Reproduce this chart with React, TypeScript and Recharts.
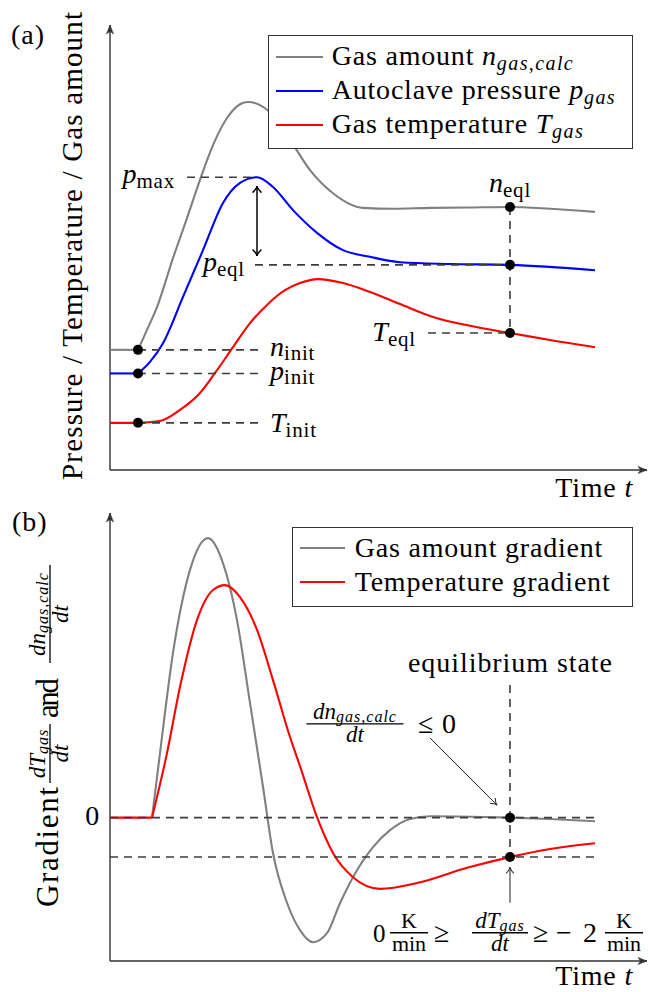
import React from 'react';
import { LineChart, Line, XAxis, YAxis, ReferenceLine, ReferenceDot, Legend } from 'recharts';

const FONT = "'Liberation Serif', 'DejaVu Serif', 'Times New Roman', Times, serif";
const INK = '#000';
const AXIS = '#333';
const DASH = '#3d3d3d';
const GRAY = '#808080';
const BLUE = '#0000ff';
const RED = '#ff0000';

// ---------------- time axis ----------------
const T_MAX = 107.4;
const admissionTime = 5.6; // start of gas admission (init points)
const eqlTime = 80; // equilibrium state

// ---------------- panel (a) data ----------------
const Y_MAX_A = 100;
const gasInitTime = [0, 5.6];
const gasInit = [27.0, 27.0];
const gasTime = [5.6, 7.4, 9.4, 12.6, 15.4, 18, 20.6, 23.4, 26, 27.6, 30, 32, 36, 40, 44.6, 50.6, 56.6, 64, 72, 80, 88, 97];
const gasAmount = [27.0, 31.5, 36.6, 47.6, 56.6, 65.2, 73.0, 79.1, 82.2, 82.7, 82.0, 80.4, 74.2, 67.4, 62.2, 58.9, 58.7, 58.9, 59.0, 59.1, 58.7, 58.0];

const pressInitTime = [0, 5.6];
const pressInit = [21.7, 21.7];
const pressTime = [5.6, 8, 10.6, 14.6, 18.6, 22.6, 26, 29.4, 32.6, 36.6, 41.4, 46.6, 52, 58, 68, 80, 97];
const pressure = [21.7, 24.3, 28.5, 38.9, 49.4, 60.0, 64.5, 65.8, 63.6, 58.4, 53.3, 49.4, 47.9, 46.7, 46.3, 46.1, 44.9];

const tempTime = [0, 5.6, 10, 14, 18, 21, 24.6, 28, 31.4, 35, 38, 41.6, 46.6, 52, 58, 64.6, 72, 80, 88, 97];
const temperature = [10.6, 10.6, 11.0, 13.5, 17.3, 21.8, 27.6, 33.0, 37.1, 40.4, 42.0, 42.9, 42.0, 40.0, 37.3, 34.4, 32.4, 30.8, 29.2, 27.6];

const valueAt = (ts: number[], vs: number[], t: number) => vs[ts.indexOf(t)];
const nInit = gasInit[0];
const pInit = pressInit[0];
const TInit = temperature[0];
const nEql = valueAt(gasTime, gasAmount, eqlTime);
const pEql = valueAt(pressTime, pressure, eqlTime);
const TEql = valueAt(tempTime, temperature, eqlTime);
const pMax = Math.max(...pressure);
const pMaxTime = pressTime[pressure.indexOf(pMax)];

const legendA = [
  { color: GRAY, text: 'Gas amount ', sym: 'n', sub: 'gas,calc' },
  { color: BLUE, text: 'Autoclave pressure ', sym: 'p', sub: 'gas' },
  { color: RED, text: 'Gas temperature ', sym: 'T', sub: 'gas' },
];

// ---------------- panel (b) data ----------------
const Y_MIN_B = -32;
const Y_MAX_B = 68;
const gradInitTime = [0, 8.4];
const gradInit = [0, 0];
const dnTime = [8.4, 10, 12.6, 16, 19.6, 22.6, 25.4, 28, 30.6, 32.6, 35.4, 38, 40.6, 43.4, 46, 48.6, 52.6, 56, 60, 64, 72, 80, 88, 97];
const dnGrad = [0, 14.4, 36.8, 55.3, 62.4, 56.8, 44.1, 25.6, 6.9, -7.9, -19.0, -25.1, -27.8, -25.8, -19.1, -13.3, -6.6, -2.8, -0.3, 0.3, 0.2, 0, -0.3, -0.8];
const dTTime = [8.4, 11.4, 14, 17.4, 20.6, 23, 26, 29.4, 32.6, 36, 38, 41.4, 44.6, 48.6, 54, 61.4, 71.4, 80, 88, 97];
const dTGrad = [0, 14.4, 29.2, 44.1, 50.8, 51.9, 49.2, 41.9, 30.7, 18.0, 11.5, 0.1, -7.9, -13.3, -15.9, -14.6, -11.2, -8.8, -7.0, -5.7];
const dTLimit = valueAt(dTTime, dTGrad, eqlTime); // -2 K/min line
const dnEql = valueAt(dnTime, dnGrad, eqlTime);
const curveEnd = 97;

const legendB = [
  { color: GRAY, text: 'Gas amount gradient' },
  { color: RED, text: 'Temperature gradient' },
];

const series = (ts: number[], vs: number[]) => ts.map((t, i) => ({ t, v: vs[i] }));

// ---------------- drawing helpers ----------------
type ArrowOpts = { color: string; width: number; len: number; half: number; start?: boolean; end?: boolean; filled?: boolean };

function head(x: number, y: number, ang: number, o: ArrowOpts) {
  const c = Math.cos(ang), s = Math.sin(ang);
  const bx = x - o.len * c, by = y - o.len * s;
  const lx = bx - o.half * s, ly = by + o.half * c;
  const rx = bx + o.half * s, ry = by - o.half * c;
  if (o.filled) {
    const nx = x - o.len * 0.72 * c, ny = y - o.len * 0.72 * s;
    return <path d={`M${x},${y} L${lx},${ly} L${nx},${ny} L${rx},${ry} Z`} fill={o.color} stroke={o.color} strokeWidth={0.5} strokeLinejoin="round" />;
  }
  return <path d={`M${lx},${ly} Q${x - o.len * 0.35 * c},${y - o.len * 0.35 * s} ${x},${y} Q${x - o.len * 0.35 * c},${y - o.len * 0.35 * s} ${rx},${ry}`} fill="none" stroke={o.color} strokeWidth={o.width} strokeLinecap="round" />;
}

const arrow = (o: ArrowOpts) => (props: any) => {
  const { x1, y1, x2, y2 } = props;
  const ang = Math.atan2(y2 - y1, x2 - x1);
  return (
    <g>
      <line x1={x1} y1={y1} x2={x2} y2={y2} stroke={o.color} strokeWidth={o.width} />
      {o.end ? head(x2, y2, ang, o) : null}
      {o.start ? head(x1, y1, ang + Math.PI, o) : null}
    </g>
  );
};

const anchor = (render: (x: number, y: number) => React.ReactNode) => (p: any) => <g>{render(p.cx, p.cy)}</g>;

function Txt({ x, y, children, anchor: a = 'start', size = 28, italic = false, ls = 0.8, tl }: any) {
  return (
    <text x={x} y={y} textAnchor={a} style={{ fontFamily: FONT }} fontSize={size} fontStyle={italic ? 'italic' : 'normal'} fill={INK} letterSpacing={ls} textLength={tl} lengthAdjust={tl ? 'spacing' : undefined}>
      {children}
    </text>
  );
}

function Sym({ x, y, base, sub, anchor: a = 'start', size = 28, subSize = 21, subDy = 5, subItalic = false }: any) {
  return (
    <text x={x} y={y} textAnchor={a} style={{ fontFamily: FONT }} fontSize={size} fill={INK}>
      <tspan fontStyle="italic">{base}</tspan>
      <tspan fontSize={subSize} dy={subDy} fontStyle={subItalic ? 'italic' : 'normal'} letterSpacing={0.8}>{sub}</tspan>
    </text>
  );
}

function Frac({ cx, bar, w, num, den, size = 23, numGap = 5, denGap = 18 }: any) {
  return (
    <g>
      <text x={cx} y={bar - numGap} textAnchor="middle" style={{ fontFamily: FONT }} fontSize={size} fill={INK}>{num}</text>
      <line x1={cx - w / 2} x2={cx + w / 2} y1={bar} y2={bar} stroke={INK} strokeWidth={1.3} />
      <text x={cx} y={bar + denGap} textAnchor="middle" style={{ fontFamily: FONT }} fontSize={size} fill={INK}>{den}</text>
    </g>
  );
}

const dnNum = (
  <>
    <tspan fontStyle="italic">dn</tspan>
    <tspan fontStyle="italic" fontSize={16} dy={3} letterSpacing={1}>gas,calc</tspan>
  </>
);
const dTNum = (
  <>
    <tspan fontStyle="italic">dT</tspan>
    <tspan fontStyle="italic" fontSize={16} dy={3} letterSpacing={1}>gas</tspan>
  </>
);
const dtDen = <tspan fontStyle="italic">dt</tspan>;

function LegendBox({ items, width, height, padTop, padLeft, lineW, gap }: any) {
  return (
    <div style={{ boxSizing: 'border-box', width, height, border: `1.3px solid ${AXIS}`, background: '#fff', paddingTop: padTop, paddingLeft: padLeft, fontFamily: FONT, fontSize: 28, color: INK }}>
      {items.map((it: any, i: number) => (
        <div key={i} style={{ display: 'flex', alignItems: 'center', height: 34, lineHeight: '34px', whiteSpace: 'nowrap' }}>
          <span style={{ display: 'inline-block', width: lineW, borderTop: `2.6px solid ${it.color}`, marginRight: gap }} />
          <span style={{ letterSpacing: 0.8 }}>
            {it.text}
            {it.sym ? (
              <>
                <i>{it.sym}</i>
                <span style={{ fontSize: 20, fontStyle: 'italic', position: 'relative', top: 5, letterSpacing: 1.4 }}>{it.sub}</span>
              </>
            ) : null}
          </span>
        </div>
      ))}
    </div>
  );
}

const dashProps = { stroke: DASH, strokeWidth: 1.6, strokeDasharray: '8 6', ifOverflow: 'visible' as const };
const axisArrow = arrow({ color: AXIS, width: 1.4, len: 9, half: 3.6, end: true, filled: true });
const dotProps = { r: 5, fill: INK, stroke: 'none', ifOverflow: 'visible' as const };
const lineProps = { dataKey: 'v', dot: false, isAnimationActive: false, strokeWidth: 2.1 };

function PanelA() {
  return (
    <LineChart width={649} height={510} margin={{ top: 25, right: 2, left: 110, bottom: 40 }}>
      <XAxis type="number" dataKey="t" domain={[0, T_MAX]} hide />
      <YAxis type="number" domain={[0, Y_MAX_A]} hide />
      <ReferenceLine segment={[{ x: 0, y: 0 }, { x: T_MAX, y: 0 }]} ifOverflow="visible" shape={axisArrow} />
      <ReferenceLine segment={[{ x: 0, y: 0 }, { x: 0, y: Y_MAX_A }]} ifOverflow="visible" shape={axisArrow} />

      <Line {...lineProps} data={series(gasInitTime, gasInit)} type="linear" stroke={GRAY} legendType="none" />
      <Line {...lineProps} data={series(gasTime, gasAmount)} type="monotone" stroke={GRAY} name="Gas amount" />
      <Line {...lineProps} data={series(pressInitTime, pressInit)} type="linear" stroke={BLUE} legendType="none" />
      <Line {...lineProps} data={series(pressTime, pressure)} type="monotone" stroke={BLUE} name="Autoclave pressure" />
      <Line {...lineProps} data={series(tempTime, temperature)} type="monotone" stroke={RED} name="Gas temperature" />

      <ReferenceLine {...dashProps} segment={[{ x: admissionTime, y: nInit }, { x: 30.6, y: nInit }]} />
      <ReferenceLine {...dashProps} segment={[{ x: admissionTime, y: pInit }, { x: 30.6, y: pInit }]} />
      <ReferenceLine {...dashProps} segment={[{ x: admissionTime, y: TInit }, { x: 30.6, y: TInit }]} />
      <ReferenceLine {...dashProps} segment={[{ x: 15.4, y: pMax }, { x: pMaxTime, y: pMax }]} />
      <ReferenceLine {...dashProps} segment={[{ x: 29, y: pEql }, { x: eqlTime, y: pEql }]} />
      <ReferenceLine {...dashProps} segment={[{ x: eqlTime, y: nEql }, { x: eqlTime, y: TEql }]} />
      <ReferenceLine {...dashProps} segment={[{ x: 63.6, y: TEql }, { x: eqlTime, y: TEql }]} />

      <ReferenceLine segment={[{ x: pMaxTime, y: pMax - 2 }, { x: pMaxTime, y: pEql + 2 }]} ifOverflow="visible"
        shape={arrow({ color: INK, width: 1.5, len: 6, half: 4, start: true, end: true })} />

      <ReferenceDot {...dotProps} x={admissionTime} y={nInit} />
      <ReferenceDot {...dotProps} x={admissionTime} y={pInit} />
      <ReferenceDot {...dotProps} x={admissionTime} y={TInit} />
      <ReferenceDot {...dotProps} x={eqlTime} y={nEql} />
      <ReferenceDot {...dotProps} x={eqlTime} y={pEql} />
      <ReferenceDot {...dotProps} x={eqlTime} y={TEql} />

      <ReferenceDot x={15.4} y={pMax} r={0} ifOverflow="visible" shape={anchor((x, y) => <Sym x={x - 12} y={y + 6} base="p" sub="max" anchor="end" />)} />
      <ReferenceDot x={29} y={pEql} r={0} ifOverflow="visible" shape={anchor((x, y) => <Sym x={x - 10} y={y + 6} base="p" sub="eql" anchor="end" />)} />
      <ReferenceDot x={eqlTime} y={nEql} r={0} ifOverflow="visible" shape={anchor((x, y) => <Sym x={x} y={y - 15} base="n" sub="eql" anchor="middle" />)} />
      <ReferenceDot x={63.6} y={TEql} r={0} ifOverflow="visible" shape={anchor((x, y) => <Sym x={x - 12} y={y + 8} base="T" sub="eql" anchor="end" />)} />
      <ReferenceDot x={30.6} y={nInit} r={0} ifOverflow="visible" shape={anchor((x, y) => <Sym x={x + 7} y={y + 6} base="n" sub="init" subDy={4} />)} />
      <ReferenceDot x={30.6} y={pInit} r={0} ifOverflow="visible" shape={anchor((x, y) => <Sym x={x + 7} y={y + 7} base="p" sub="init" subDy={4} />)} />
      <ReferenceDot x={30.6} y={TInit} r={0} ifOverflow="visible" shape={anchor((x, y) => <Sym x={x + 7} y={y + 9} base="T" sub="init" />)} />

      <ReferenceDot x={0} y={Y_MAX_A} r={0} ifOverflow="visible" shape={anchor((x, y) => <Txt x={x - 99} y={y + 19} ls={1}>(a)</Txt>)} />
      <ReferenceDot x={0} y={Y_MAX_A / 2} r={0} ifOverflow="visible" shape={anchor((x, y) => (
        <g transform={`translate(${x - 28}, ${y - 1.5}) rotate(-90)`}>
          <Txt x={0} y={0} anchor="middle" size={29} ls={0} tl={468}>Pressure / Temperature / Gas amount</Txt>
        </g>
      ))} />
      <ReferenceDot x={T_MAX} y={0} r={0} ifOverflow="visible" shape={anchor((x, y) => (
        <text x={x - 14} y={y + 27} textAnchor="end" style={{ fontFamily: FONT }} fontSize={28} fill={INK} letterSpacing={0.8}>Time <tspan fontStyle="italic">t</tspan></text>
      ))} />

      <Legend layout="vertical" align="center" verticalAlign="middle"
        wrapperStyle={{ position: 'absolute', left: 268, top: 35, width: 365, height: 114 }}
        content={() => <LegendBox items={legendA} width={365} height={114} padTop={4} padLeft={6.7} lineW={47} gap={9} />} />
    </LineChart>
  );
}

function PanelB() {
  return (
    <LineChart width={649} height={492} margin={{ top: 13, right: 2, left: 110, bottom: 31 }}>
      <XAxis type="number" dataKey="t" domain={[0, T_MAX]} hide />
      <YAxis type="number" domain={[Y_MIN_B, Y_MAX_B]} hide />
      <ReferenceLine segment={[{ x: 0, y: Y_MIN_B }, { x: T_MAX, y: Y_MIN_B }]} ifOverflow="visible" shape={axisArrow} />
      <ReferenceLine segment={[{ x: 0, y: Y_MIN_B }, { x: 0, y: Y_MAX_B }]} ifOverflow="visible" shape={axisArrow} />

      <Line {...lineProps} data={series(gradInitTime, gradInit)} type="linear" stroke={RED} legendType="none" />
      <Line {...lineProps} data={series(dnTime, dnGrad)} type="monotone" stroke={GRAY} name="Gas amount gradient" />
      <Line {...lineProps} data={series(dTTime, dTGrad)} type="monotone" stroke={RED} name="Temperature gradient" />

      <ReferenceLine {...dashProps} segment={[{ x: 0, y: 0 }, { x: curveEnd, y: 0 }]} />
      <ReferenceLine {...dashProps} segment={[{ x: 0, y: dTLimit }, { x: curveEnd, y: dTLimit }]} />
      <ReferenceLine {...dashProps} segment={[{ x: eqlTime, y: 29.6 }, { x: eqlTime, y: dTLimit }]} />

      <ReferenceLine segment={[{ x: 64, y: 17.8 }, { x: 77.4, y: 2.8 }]} ifOverflow="visible"
        shape={arrow({ color: '#222', width: 1, len: 6, half: 3.5, end: true })} />
      <ReferenceLine segment={[{ x: eqlTime, y: -19 }, { x: eqlTime, y: -11 }]} ifOverflow="visible"
        shape={arrow({ color: '#333', width: 1.1, len: 6, half: 3.5, end: true })} />

      <ReferenceDot {...dotProps} x={eqlTime} y={dnEql} />
      <ReferenceDot {...dotProps} x={eqlTime} y={dTLimit} />

      <ReferenceDot x={0} y={0} r={0} ifOverflow="visible" shape={anchor((x, y) => <Txt x={x - 10} y={y + 7} anchor="end">0</Txt>)} />
      <ReferenceDot x={eqlTime} y={29.6} r={0} ifOverflow="visible" shape={anchor((x, y) => <Txt x={x} y={y - 13} anchor="middle" ls={0} tl={204}>equilibrium state</Txt>)} />
      <ReferenceDot x={64} y={17.8} r={0} ifOverflow="visible" shape={anchor((x, y) => (
        <g>
          <Frac cx={x - 75} bar={y - 14} w={97} num={dnNum} den={dtDen} />
          <Txt x={x - 12} y={y - 5} ls={0}>≤</Txt>
          <Txt x={x + 12} y={y - 5} ls={0}>0</Txt>
        </g>
      ))} />
      <ReferenceDot x={eqlTime} y={-19} r={0} ifOverflow="visible" shape={anchor((x, y) => (
        <g>
          <Txt x={x - 137} y={y + 39} size={25} ls={0}>0</Txt>
          <Frac cx={x - 101} bar={y + 30} w={38} size={22} num={<tspan>K</tspan>} den={<tspan>min</tspan>} />
          <Txt x={x - 76} y={y + 39} ls={0}>≥</Txt>
          <Frac cx={x - 10} bar={y + 30} w={56} num={dTNum} den={dtDen} />
          <Txt x={x + 23} y={y + 39} ls={0}>≥</Txt>
          <Txt x={x + 46} y={y + 39} ls={0}>−</Txt>
          <Txt x={x + 73} y={y + 39} ls={0}>2</Txt>
          <Frac cx={x + 114} bar={y + 30} w={38} size={22} num={<tspan>K</tspan>} den={<tspan>min</tspan>} />
        </g>
      ))} />

      <ReferenceDot x={0} y={Y_MAX_B} r={0} ifOverflow="visible" shape={anchor((x, y) => <Txt x={x - 98} y={y + 18} ls={1}>(b)</Txt>)} />
      <ReferenceDot x={0} y={0} r={0} ifOverflow="visible" shape={anchor((x, y) => (
        <g transform={`translate(${x}, ${y}) rotate(-90)`}>
          <Txt x={-89.4} y={-52} size={31} ls={0} tl={120}>Gradient</Txt>
          <Frac cx={64.1} bar={-60} w={59} num={dTNum} den={dtDen} />
          <Txt x={99.6} y={-52} size={31} ls={0} tl={40}>and</Txt>
          <Frac cx={203.6} bar={-60} w={98} num={dnNum} den={dtDen} />
        </g>
      ))} />
      <ReferenceDot x={T_MAX} y={Y_MIN_B} r={0} ifOverflow="visible" shape={anchor((x, y) => (
        <text x={x - 14} y={y + 24} textAnchor="end" style={{ fontFamily: FONT }} fontSize={28} fill={INK} letterSpacing={0.8}>Time <tspan fontStyle="italic">t</tspan></text>
      ))} />

      <Legend layout="vertical" align="center" verticalAlign="middle"
        wrapperStyle={{ position: 'absolute', left: 292, top: 27, width: 341, height: 80 }}
        content={() => <LegendBox items={legendB} width={341} height={80} padTop={2.7} padLeft={6.7} lineW={45} gap={10} />} />
    </LineChart>
  );
}

export default function App() {
  return (
    <div style={{ position: 'absolute', left: 0, top: 0, width: 649, height: 992, background: '#fff' }}>
      <div style={{ position: 'absolute', left: 0, top: 0 }}>
        <PanelA />
      </div>
      <div style={{ position: 'absolute', left: 0, top: 500 }}>
        <PanelB />
      </div>
    </div>
  );
}
